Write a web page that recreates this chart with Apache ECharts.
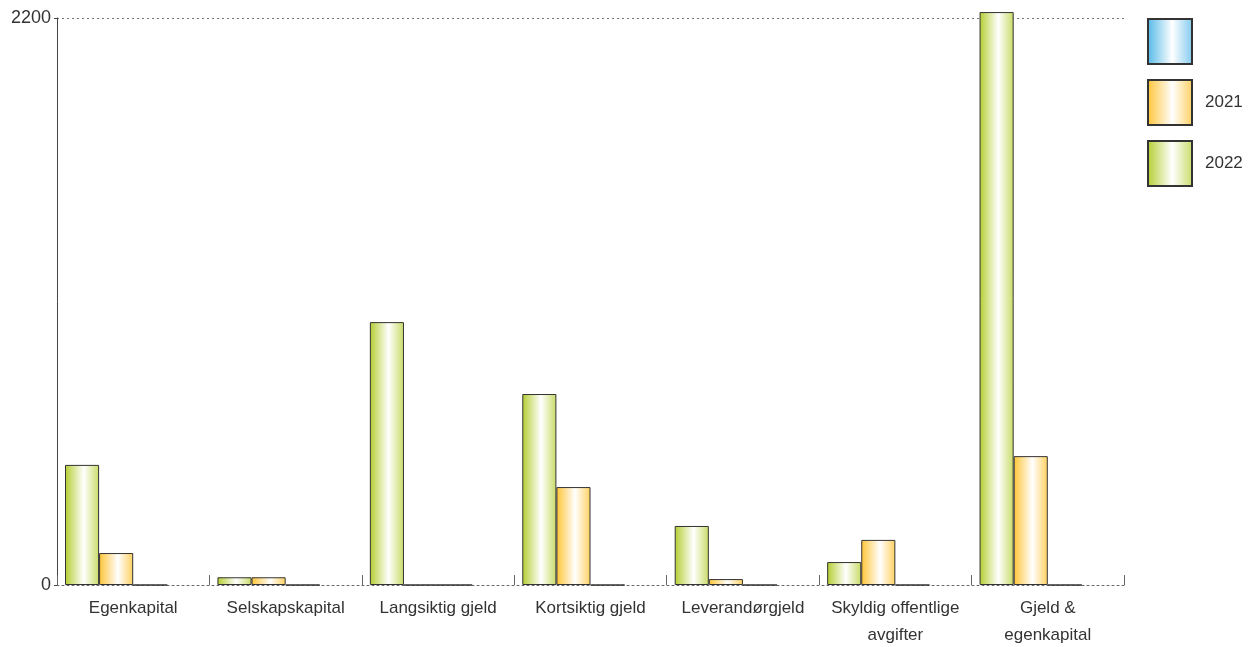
<!DOCTYPE html>
<html><head><meta charset="utf-8">
<script src="https://cdn.jsdelivr.net/npm/echarts@6/dist/echarts.min.js"></script>
<style>html,body{margin:0;padding:0;background:#fff}#c{width:1255px;height:647px}</style>
</head><body><div id="c"></div>
<script>
const categories = ['Egenkapital','Selskapskapital','Langsiktig gjeld','Kortsiktig gjeld','Leverandørgjeld','Skyldig offentlige\navgifter','Gjeld &\negenkapital'];
const values2022 = [466, 30, 1020, 741, 229, 89, 2223];
const values2021 = [124, 30, 0, 380, 23, 175, 500];
const valuesBlank = [0, 0, 0, 0, 0, 0, 0];
const yTicks = [0, 2200];

function grad(c1, c2) {
  return new echarts.graphic.LinearGradient(0, 0, 1, 0, [
    {offset: 0, color: c1}, {offset: 0.55, color: '#ffffff'}, {offset: 1, color: c2}
  ]);
}
const font = 'Liberation Sans, Arial, sans-serif';
const chart = echarts.init(document.getElementById('c'));
chart.setOption({
  animation: false,
  textStyle: {fontFamily: font},
  grid: {left: 57, right: 131, top: 18, bottom: 62, containLabel: false, outerBoundsMode: 'none'},
  legend: {
    data: [' ', '2021', '2022'],
    orient: 'vertical', left: 1147, top: 18, padding: 0,
    icon: 'rect',
    itemWidth: 44, itemHeight: 45, itemGap: 14,
    textStyle: {fontSize: 17, color: '#333', fontFamily: font, padding: [0, 0, 0, 8]},
    selectedMode: false
  },
  xAxis: {
    type: 'category', data: categories,
    axisLine: {show: true, lineStyle: {color: '#666', type: [2, 3], width: 1}},
    axisTick: {show: true, inside: true, length: 10, lineStyle: {color: '#666'}},
    axisLabel: {fontSize: 17, color: '#333', margin: 10, lineHeight: 27, interval: 0}
  },
  yAxis: {
    type: 'value', min: yTicks[0], max: yTicks[1], interval: 2200,
    axisLine: {show: true, lineStyle: {color: '#444'}},
    axisTick: {show: true, length: 3, lineStyle: {color: '#444'}},
    axisLabel: {fontSize: 18, color: '#333', margin: 6, formatter: v => String(v)},
    splitLine: {show: true, lineStyle: {color: '#777', type: [2, 3]}}
  },
  series: [
    {name: '2022', type: 'bar', data: values2022, barGap: 0, barCategoryGap: '10.5%', clip: false,
     itemStyle: {color: grad('#b4cd30', '#c8dc66'), borderColor: '#333', borderWidth: 1}},
    {name: '2021', type: 'bar', data: values2021, clip: false,
     itemStyle: {color: grad('#ffc434', '#ffd060'), borderColor: '#333', borderWidth: 1}},
    {name: ' ', type: 'bar', data: valuesBlank, clip: false,
     itemStyle: {color: grad('#52b8e8', '#80c9ee'), borderColor: '#333', borderWidth: 1}},
    {name: 'spacer', type: 'bar', data: [null, null, null, null, null, null, null]}
  ]
});
</script></body></html>
